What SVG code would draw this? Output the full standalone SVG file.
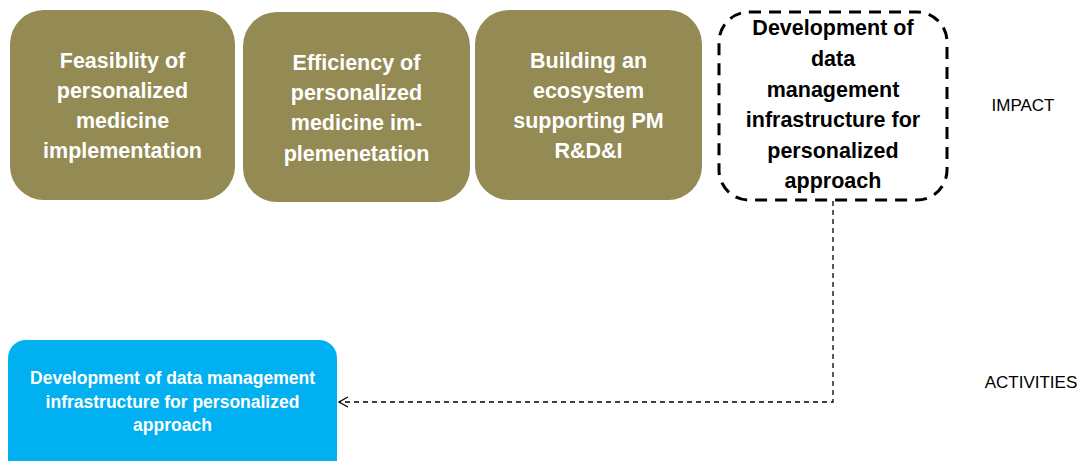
<svg xmlns="http://www.w3.org/2000/svg" width="1080" height="461" viewBox="0 0 1080 461">
<style>
.olive{fill:#948A54}
.wt{font-family:"Liberation Sans",Arial,sans-serif;font-weight:bold;font-size:21.5px;fill:#FFFFFF;text-anchor:middle}
.bt{font-family:"Liberation Sans",Arial,sans-serif;font-weight:bold;font-size:21.5px;fill:#000000;text-anchor:middle}
.st{font-family:"Liberation Sans",Arial,sans-serif;font-weight:bold;font-size:17.5px;fill:#FFFFFF;text-anchor:middle}
.lbl{font-family:"Liberation Sans",Arial,sans-serif;font-size:17px;fill:#000000;text-anchor:middle}
.conn{fill:none;stroke:#000000;stroke-width:1.3;stroke-dasharray:5 4}
</style>
<defs>
<marker id="open" markerWidth="12" markerHeight="12" refX="10" refY="6" orient="auto" markerUnits="userSpaceOnUse">
<path d="M1,1 L10,6 L1,11" fill="none" stroke="#000000" stroke-width="1.3"/>
</marker>
</defs>
<g id="n1">
<rect class="olive" x="10" y="10" width="225" height="190" rx="34"/>
<text class="wt"><tspan x="122.5" y="68">Feasiblity of</tspan><tspan x="122.5" y="98">personalized</tspan><tspan x="122.5" y="128">medicine</tspan><tspan x="122.5" y="158">implementation</tspan></text>
</g>
<g id="n2">
<rect class="olive" x="243" y="12" width="227" height="190" rx="34"/>
<text class="wt"><tspan x="356.5" y="70">Efficiency of</tspan><tspan x="356.5" y="100">personalized</tspan><tspan x="356.5" y="130">medicine im-</tspan><tspan x="356.5" y="161">plemenetation</tspan></text>
</g>
<g id="n3">
<rect class="olive" x="475" y="10" width="227" height="190" rx="34"/>
<text class="wt"><tspan x="588.5" y="68">Building an</tspan><tspan x="588.5" y="98">ecosystem</tspan><tspan x="588.5" y="128">supporting PM</tspan><tspan x="588.5" y="158">R&amp;D&amp;I</tspan></text>
</g>
<g id="n4">
<rect x="719" y="12" width="228" height="188" rx="30" fill="none" stroke="#000000" stroke-width="3" stroke-dasharray="12 8"/>
<text class="bt"><tspan x="833" y="35">Development of</tspan><tspan x="833" y="66">data</tspan><tspan x="833" y="97">management</tspan><tspan x="833" y="127">infrastructure for</tspan><tspan x="833" y="158">personalized</tspan><tspan x="833" y="188">approach</tspan></text>
</g>
<g id="n5">
<rect x="8" y="340" width="329" height="140" rx="18" fill="#00B0F0"/>
<text class="st"><tspan x="172.5" y="384">Development of data management</tspan><tspan x="172.5" y="408">infrastructure for personalized</tspan><tspan x="172.5" y="431">approach</tspan></text>
</g>
<g id="connectors">
<path class="conn" d="M833,201 L833,402 L339,402" marker-end="url(#open)"/>
</g>
<g id="labels">
<text class="lbl" x="1023" y="111">IMPACT</text>
<text class="lbl" x="1031" y="388">ACTIVITIES</text>
</g>
</svg>
